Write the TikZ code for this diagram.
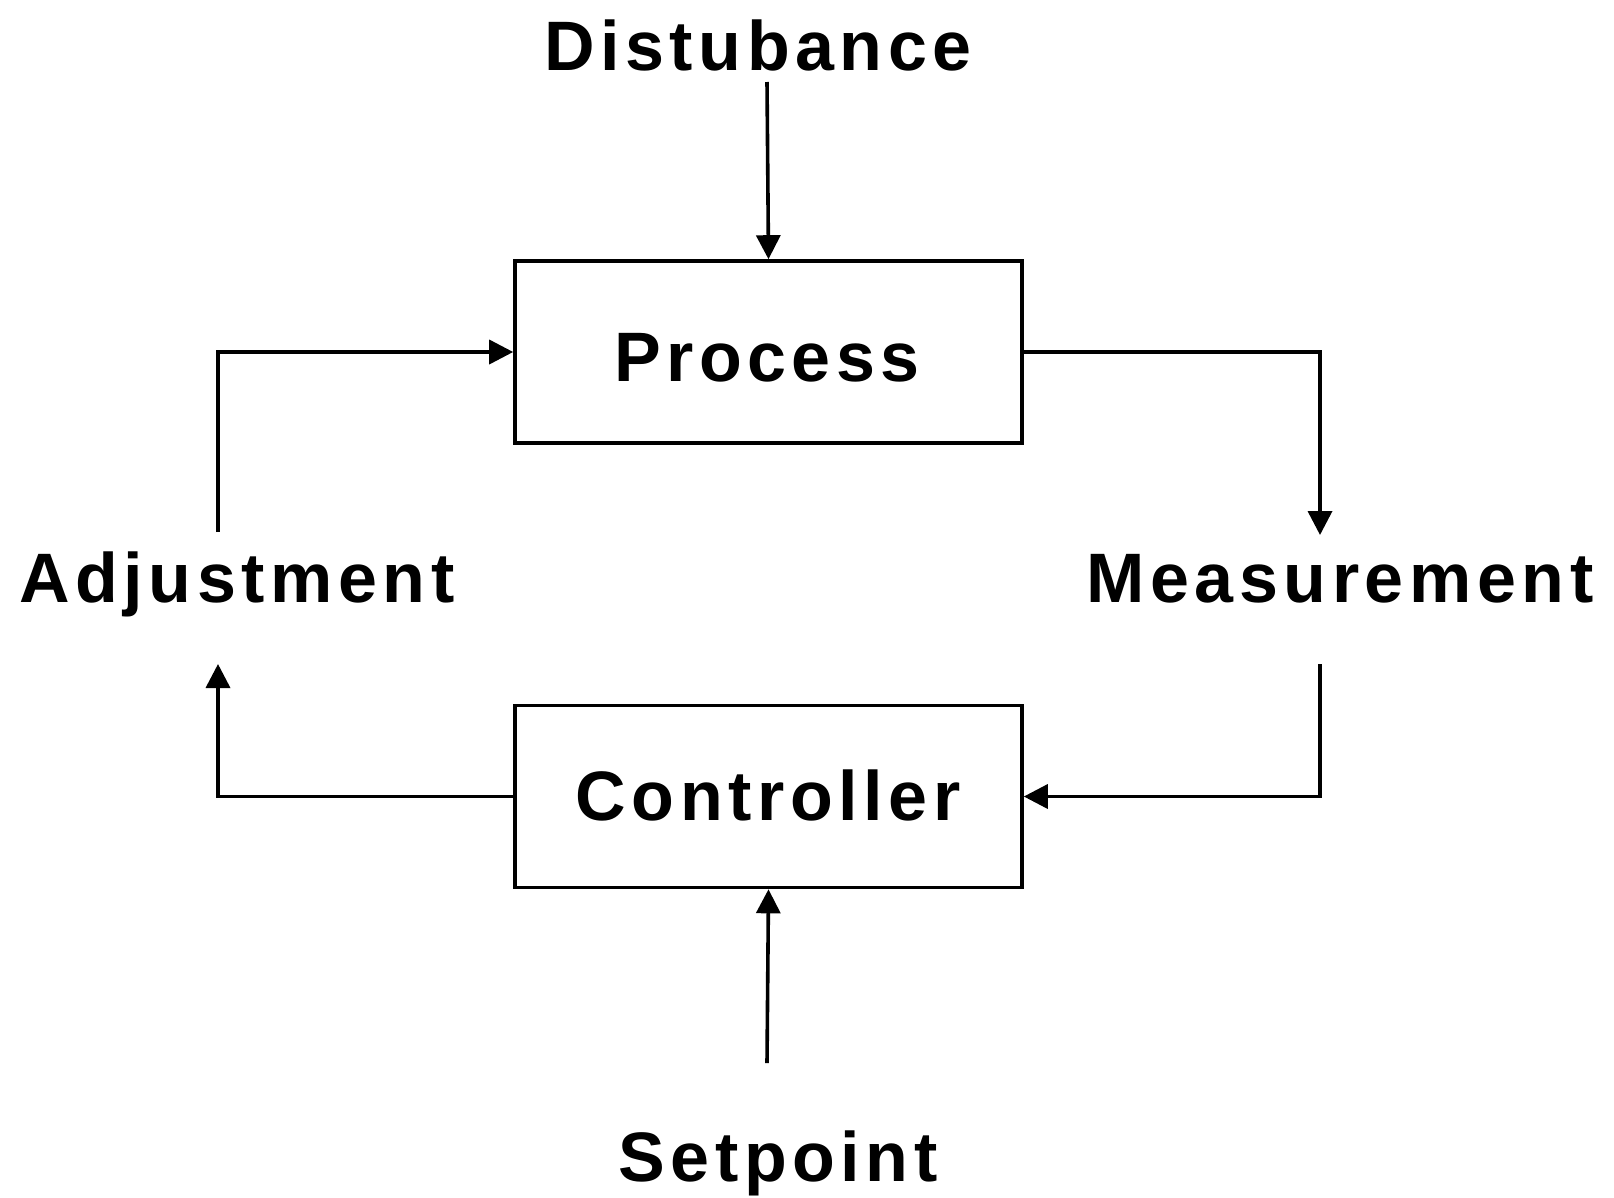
\documentclass[tikz,border=0pt]{standalone}
\usepackage{fontspec}
\usepackage{tikz}
\usetikzlibrary{arrows.meta}

\newfontfamily\lblfont{Liberation Sans}[LetterSpace=8]

\tikzset{
    lbl/.style={font=\lblfont\bfseries\fontsize{70}{80}\selectfont, inner sep=0pt, anchor=base},
    blockbox/.style={draw, line width=3.6pt, minimum width=507pt, minimum height=182pt, inner sep=0pt},
    arr/.style={line width=3.6pt, -{Triangle[length=24pt,width=24pt]}},
    ln/.style={line width=3.6pt}
}

\begin{document}
\begin{tikzpicture}[x=1pt,y=1pt,yscale=-1]
    \useasboundingbox (0,0) rectangle (1614,1197);

    % blocks
    \node[blockbox] (process) at (768.5,352) {};
    \node[blockbox] (controller) at (768.5,796.5) {};
    \node[lbl] (processtxt) at (767,381) {Process};
    \node[lbl] (controllertxt) at (768,820) {Controller};

    % signal labels
    \node[lbl] (disturbance) at (758,70) {Distubance};
    \node[lbl] (adjustment) at (237,602) {Adjustment};
    \node[lbl] (measurement) at (1340,602) {Measurement};
    \node[lbl] (setpoint) at (778,1181) {Setpoint};

    % loop corners
    \coordinate (adjtop) at (218,532);
    \coordinate (adjbot) at (218,664);
    \coordinate (meastop) at (1320,535);
    \coordinate (measbot) at (1320,664);
    \coordinate (disttop) at (767,82);
    \coordinate (setbot) at (767,1063);

    % connectors
    \draw[arr] (disttop) -- (process.north);
    \draw[arr] (adjtop) |- (process.west);
    \draw[arr] (process.east) -| (meastop);
    \draw[arr] (measbot) |- (controller.east);
    \draw[arr] (controller.west) -| (adjbot);
    \draw[arr] (setbot) -- (controller.south);

\end{tikzpicture}
\end{document}
